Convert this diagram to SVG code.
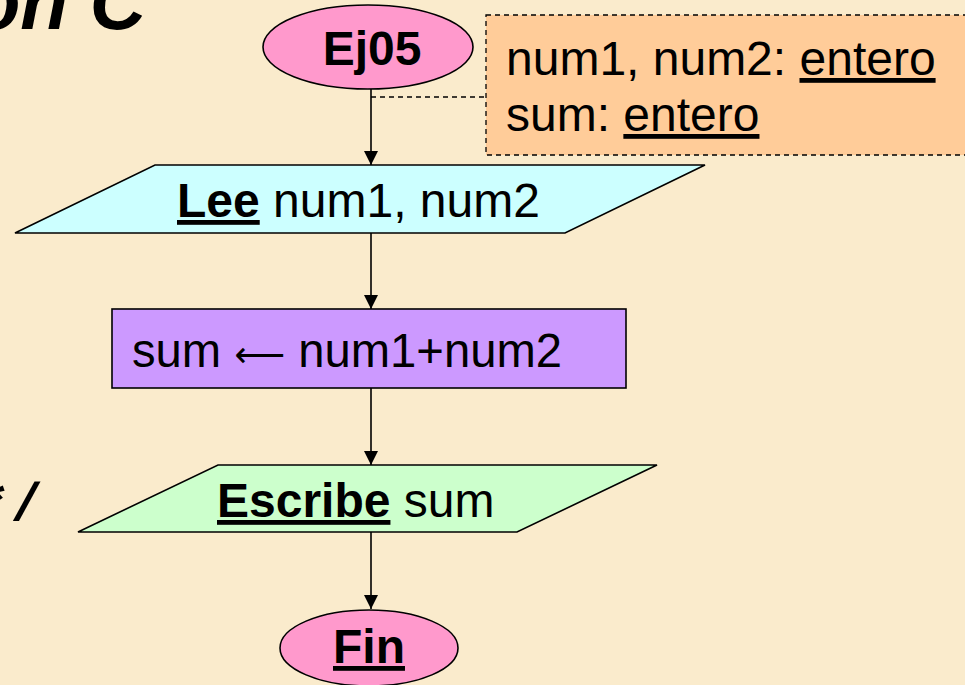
<svg xmlns="http://www.w3.org/2000/svg" width="965" height="685" viewBox="0 0 965 685">
<style>
.bg{fill:#FAEBCC}
.shape{stroke:#000;stroke-width:1.6}
.t{font-family:"Liberation Sans",Arial,Helvetica,sans-serif;font-size:48px;fill:#000}
.b{font-weight:bold}
.u{text-decoration:underline}
.conn{stroke:#000;stroke-width:1.6;fill:none}
.note{stroke:#000;stroke-width:1.3;stroke-dasharray:5,4}
</style>
<defs>
<marker id="arr" viewBox="0 0 14 14" refX="14" refY="7" markerWidth="14" markerHeight="14" markerUnits="userSpaceOnUse" orient="auto">
<path d="M0,0 L14,7 L0,14 Z" fill="#000"/>
</marker>
</defs>
<rect class="bg" x="0" y="0" width="965" height="685"/>
<text x="146" y="29" text-anchor="end" style="font-family:'Liberation Sans',Arial,sans-serif;font-size:78px;font-weight:bold;font-style:italic;fill:#000">on C</text>
<text x="-22" y="520" style="font-family:'Liberation Mono','Courier New',monospace;font-size:54px;font-weight:bold;fill:#000">*/</text>

<g id="connectors">
<line class="conn" x1="371" y1="89" x2="371" y2="165" marker-end="url(#arr)"/>
<line class="conn" x1="371" y1="233" x2="371" y2="309" marker-end="url(#arr)"/>
<line class="conn" x1="371" y1="388" x2="371" y2="465" marker-end="url(#arr)"/>
<line class="conn" x1="371" y1="532" x2="371" y2="609" marker-end="url(#arr)"/>
<line class="note" x1="371" y1="97" x2="486" y2="97"/>
</g>

<g id="note">
<rect class="note" x="486" y="15" width="500" height="140" fill="#FFCC99"/>
<text class="t" x="506" y="75">num1, num2: <tspan class="u">entero</tspan></text>
<text class="t" x="506" y="131">sum: <tspan class="u">entero</tspan></text>
</g>

<g id="start">
<ellipse class="shape" cx="368" cy="47" rx="105" ry="42" fill="#FF99CC"/>
<text class="t b" x="372" y="65" text-anchor="middle">Ej05</text>
</g>

<g id="read">
<polygon class="shape" points="155,165 705,165 565,233 15,233" fill="#CCFFFF"/>
<text class="t" x="177" y="217"><tspan class="b u">Lee</tspan> num1, num2</text>
</g>

<g id="assign">
<rect class="shape" x="112" y="309" width="514" height="79" fill="#CC99FF"/>
<text class="t" x="132" y="367" textLength="430" lengthAdjust="spacingAndGlyphs">sum <tspan style="font-family:'DejaVu Sans',sans-serif;font-size:36px">⟵</tspan> num1+num2</text>
</g>

<g id="write">
<polygon class="shape" points="218,465 657,465 517,532 78,532" fill="#CCFFCC"/>
<text class="t" x="217" y="517"><tspan class="b u">Escribe</tspan> sum</text>
</g>

<g id="end">
<ellipse class="shape" cx="369" cy="648" rx="89" ry="38" fill="#FF99CC"/>
<text class="t b u" x="369" y="663" text-anchor="middle">Fin</text>
</g>
</svg>
